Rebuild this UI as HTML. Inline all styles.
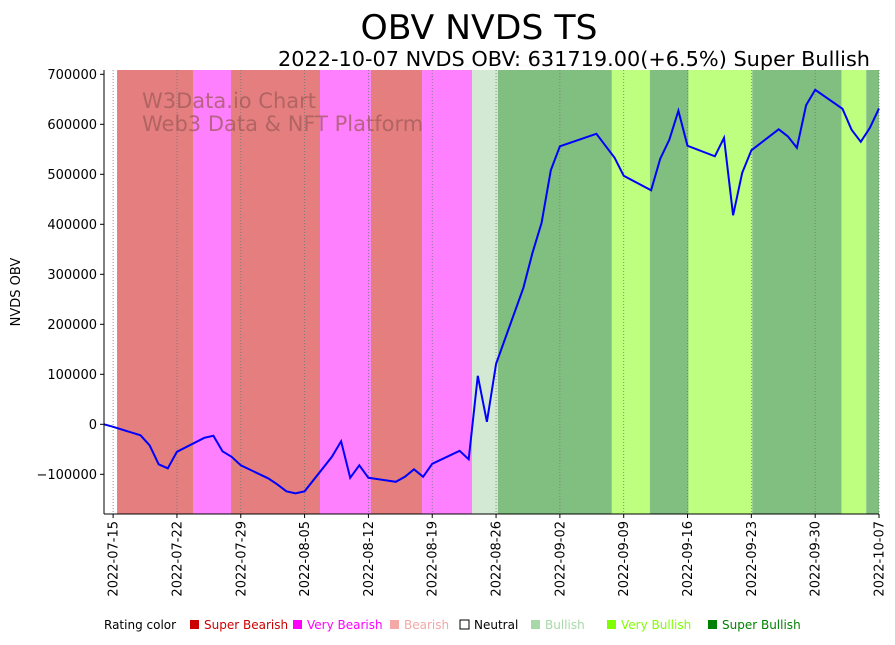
<!DOCTYPE html>
<html><head><meta charset="utf-8"><style>
body{margin:0;background:#fff;width:895px;height:641px;overflow:hidden;font-family:"DejaVu Sans","Liberation Sans",sans-serif}
svg text{font-family:"DejaVu Sans","Liberation Sans",sans-serif}
</style></head><body>
<svg id="chart" width="895" height="641" xmlns="http://www.w3.org/2000/svg">
<text x="479" y="39" font-size="34" text-anchor="middle" textLength="237" lengthAdjust="spacingAndGlyphs">OBV NVDS TS</text>
<text x="870" y="66" font-size="20" text-anchor="end" textLength="592" lengthAdjust="spacingAndGlyphs">2022-10-07 NVDS OBV: 631719.00(+6.5%) Super Bullish</text>
<g id="bands"></g>
<g id="grid"></g>
<text x="142" y="108" font-size="21" fill="#a05a5a" fill-opacity="0.75">W3Data.io Chart</text>
<text x="142" y="131" font-size="21" fill="#a05a5a" fill-opacity="0.75">Web3 Data &amp; NFT Platform</text>
<path id="line" fill="none" stroke="#0000ff" stroke-width="2"/>
<g id="axes"></g>
<text x="0" y="0" font-size="13" text-anchor="middle" transform="translate(20,292) rotate(-90)">NVDS OBV</text>
<g id="legend"></g>
</svg>
<script>
// day offsets from 2022-07-15
const dates = [-1,0,3,4,5,6,7,10,11,12,13,14,17,18,19,20,21,24,25,26,27,28,31,32,33,34,35,38,39,40,41,42,45,46,47,48,49,53,54,55,56,59,60,61,62,63,66,67,68,69,70,73,74,75,76,77,80,81,82,83,84];
const obv = [0,-5000,-22000,-42000,-80000,-88000,-55000,-27000,-23000,-54000,-65000,-82000,-108000,-120000,-134000,-138000,-134000,-65000,-34000,-107000,-82000,-107000,-115000,-105000,-90000,-105000,-79000,-53000,-70000,97000,5000,121000,273000,343000,403000,508000,556000,581000,557000,533000,497000,468000,531000,569000,627000,557000,536000,573000,418000,503000,548000,590000,576000,553000,638000,669000,631000,589000,565000,593000,631719];
const bandStart = [0.43,8.76,12.93,22.69,28.28,33.88,39.36,42.2,54.7,58.87,63.1,70.1,79.9,82.6];
const bandEnd   = [8.76,12.93,22.69,28.28,33.88,39.36,42.2,54.7,58.87,63.1,70.1,79.9,82.6,84];
const bandRating = ['super-bearish','very-bearish','super-bearish','very-bearish','super-bearish','very-bearish','bullish','super-bullish','very-bullish','super-bullish','very-bullish','super-bullish','very-bullish','super-bullish'];
const yTicks = [-100000,0,100000,200000,300000,400000,500000,600000,700000];
const xTickDays = [0,7,14,21,28,35,42,49,56,63,70,77,84];
const xTickLabels = ['2022-07-15','2022-07-22','2022-07-29','2022-08-05','2022-08-12','2022-08-19','2022-08-26','2022-09-02','2022-09-09','2022-09-16','2022-09-23','2022-09-30','2022-10-07'];
const legendNames = ['Super Bearish','Very Bearish','Bearish','Neutral','Bullish','Very Bullish','Super Bullish'];
const legendColors = ['#cc0000','#ff00ff','#f4a8a8','none','#a8d8a8','#7fff00','#008000'];
const legendX = [190,293,390,460,531,607,708];

const bandColor = {'super-bearish':'#e57f7f','very-bearish':'#ff80ff','bullish':'#d4e9d4','super-bullish':'#80bf80','very-bullish':'#bfff80'};
const L=104,R=879,T=70,B=514, D0=-1,D1=84;
const x=d=>L+(d-D0)/(D1-D0)*(R-L);
const y=v=>424.3-v/2000;
const NS='http://www.w3.org/2000/svg';
function mk(tag,parent,attrs){const e=document.createElementNS(NS,tag);for(const k in attrs)e.setAttribute(k,attrs[k]);parent.appendChild(e);return e;}
const bands=document.getElementById('bands');
bandStart.forEach((s,i)=>{
  const r=mk('rect',bands,{x:x(s),y:T,width:x(bandEnd[i])-x(s),height:B-T,fill:bandColor[bandRating[i]]});
  
  
});
const grid=document.getElementById('grid');
xTickDays.forEach(d=>{
  const l=mk('line',grid,{x1:x(d),x2:x(d),y1:T,y2:B,stroke:'#777',"stroke-width":0.8,"stroke-dasharray":'1,2'});
  
  
});
document.getElementById('line').setAttribute('d',dates.map((d,i)=>(i?'L':'M')+x(d).toFixed(1)+','+y(obv[i]).toFixed(1)).join(''));
const axes=document.getElementById('axes');
mk('line',axes,{x1:L,x2:L,y1:T,y2:B,stroke:'#000','stroke-width':1});
mk('line',axes,{x1:L,x2:R,y1:B,y2:B,stroke:'#000','stroke-width':1});
yTicks.forEach(v=>{
  mk('line',axes,{x1:L-4,x2:L,y1:y(v),y2:y(v),stroke:'#000'});
  const t=mk('text',axes,{x:L-7,y:y(v)+4.5,'font-size':13,'text-anchor':'end'});
  t.textContent=v<0?'\u2212'+Math.abs(v):String(v);
  
  
});
xTickDays.forEach((d,i)=>{
  mk('line',axes,{x1:x(d),x2:x(d),y1:B,y2:B+4,stroke:'#000'});
  const t=mk('text',axes,{x:0,y:0,'font-size':13,'text-anchor':'end',transform:`translate(${x(d)+4.5},${B+7}) rotate(-90)`});
  t.textContent=xTickLabels[i];
  
  
});
const lg=document.getElementById('legend');
const lt=mk('text',lg,{x:104,y:629,'font-size':12});
lt.textContent='Rating color';


legendNames.forEach((n,i)=>{
  const c=legendColors[i];
  const sq=mk('rect',lg,{x:legendX[i],y:620,width:9,height:9,fill:c==='none'?'#fff':c,stroke:c==='none'?'#000':'none'});
  
  
  const t=mk('text',lg,{x:legendX[i]+14,y:629,'font-size':12,fill:c==='none'?'#000':c});
  t.textContent=n;
  
  
});
</script>
</body></html>
